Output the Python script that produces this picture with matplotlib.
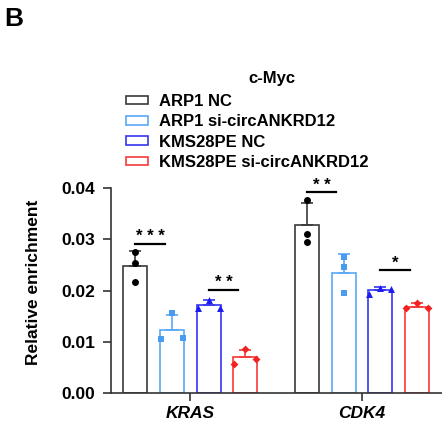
import numpy as np
import matplotlib.pyplot as plt
from matplotlib.patches import Patch

plt.rcParams['font.family'] = ['Liberation Sans', 'DejaVu Sans']
plt.rcParams['font.weight'] = 'bold'
plt.rcParams['axes.labelweight'] = 'bold'

# grupuri si serii
genes = ['KRAS', 'CDK4']
series = ['ARP1 NC', 'ARP1 si-circANKRD12', 'KMS28PE NC', 'KMS28PE si-circANKRD12']

# valorile punctelor (3 replicate), pe gena si serie
KRAS_pts = [[0.0275, 0.0253, 0.0216],
            [0.0157, 0.0105, 0.0107],
            [0.0182, 0.0165, 0.0166],
            [0.0086, 0.0057, 0.0066]]
CDK4_pts = [[0.0376, 0.0311, 0.0294],
            [0.0265, 0.0245, 0.0195],
            [0.0205, 0.0193, 0.0203],
            [0.0176, 0.0165, 0.0165]]

# semnificatie: (gena, serie stanga, serie dreapta, inaltime linie, text)
sig = [(0, 0, 1, 0.0291, '* * *'),
       (0, 2, 3, 0.0201, '* *'),
       (1, 0, 1, 0.0392, '* *'),
       (1, 2, 3, 0.0240, '*')]

edge_cols = ['#3a3a3a', '#5aa8f5', '#3535f0', '#f53a3a']
pt_cols = ['#000000', '#4a9cf0', '#1c1cf0', '#f02222']
markers = ['o', 's', '^', 'D']
msizes = [5, 5, 5, 4]
# imprastierea punctelor pe bara (ca in GraphPad)
spread = [[[0, 0, 0], [0, -0.3, 0.3], [0, -0.3, 0.3], [0, -0.3, 0.3]],
          [[0, 0, 0], [0, 0, 0], [0, -0.3, 0.3], [0, -0.3, 0.3]]]

fig = plt.figure(figsize=(4.42, 4.36), dpi=100)
ax = fig.add_axes([0.2505, 0.0986, 0.7495, 0.4702])

group_gap = 4.68
width = 0.655
all_pts = [KRAS_pts, CDK4_pts]
for g in range(2):
    for s in range(4):
        x = g * group_gap + s
        pts = np.array(all_pts[g][s])
        m = pts.mean()
        sd = pts.std(ddof=1)
        ax.bar(x, m, width=width, facecolor='white', edgecolor=edge_cols[s],
               linewidth=1.2, zorder=2)
        ax.errorbar(x, m, yerr=[[0], [sd]], color=edge_cols[s], capsize=4,
                    elinewidth=1.2, capthick=1.2, zorder=3)
        ax.scatter(x + np.array(spread[g][s]), pts, marker=markers[s],
                   s=msizes[s] ** 2, color=pt_cols[s], zorder=4, linewidths=0)

for g, a, b, h, txt in sig:
    x1 = g * group_gap + a
    ax.plot([x1, x1 + 0.8], [h, h], color='black', lw=1.6, clip_on=False, zorder=5)
    ax.text(x1 + 0.4, h + 0.0005, txt, ha='center', va='baseline',
            fontsize=12, clip_on=False)

ax.set_xlim(-0.67, 8.36)
ax.set_ylim(0, 0.04)
ax.set_yticks([0, 0.01, 0.02, 0.03, 0.04])
ax.set_yticklabels(['0.00', '0.01', '0.02', '0.03', '0.04'], fontsize=12.5)
ax.set_xticks([1.5, group_gap + 1.5])
ax.set_xticklabels(genes, fontsize=12.5, style='italic')
ax.tick_params(length=6, width=1.2, color='#333333')
ax.tick_params(axis='y', pad=5)
ax.spines['top'].set_visible(False)
ax.spines['right'].set_visible(False)
ax.spines['left'].set_linewidth(1.2)
ax.spines['bottom'].set_linewidth(1.2)
ax.spines['left'].set_color('#333333')
ax.spines['bottom'].set_color('#333333')
ax.set_ylabel('Relative enrichment', fontsize=12.5)
ax.yaxis.set_label_coords(-0.21, 0.54)

handles = [Patch(facecolor='white', edgecolor=c, linewidth=1.2) for c in edge_cols]
fig.legend(handles, series, loc='upper left', bbox_to_anchor=(0.27, 0.80),
           frameon=False, fontsize=12, handlelength=1.3, handleheight=0.42,
           handletextpad=0.7, labelspacing=0.32, borderaxespad=0)
fig.text(0.615, 0.82, 'c-Myc', ha='center', va='center', fontsize=12)
fig.text(0.01, 0.985, 'B', ha='left', va='top', fontsize=19)

fig.savefig('out.png', dpi=100)
